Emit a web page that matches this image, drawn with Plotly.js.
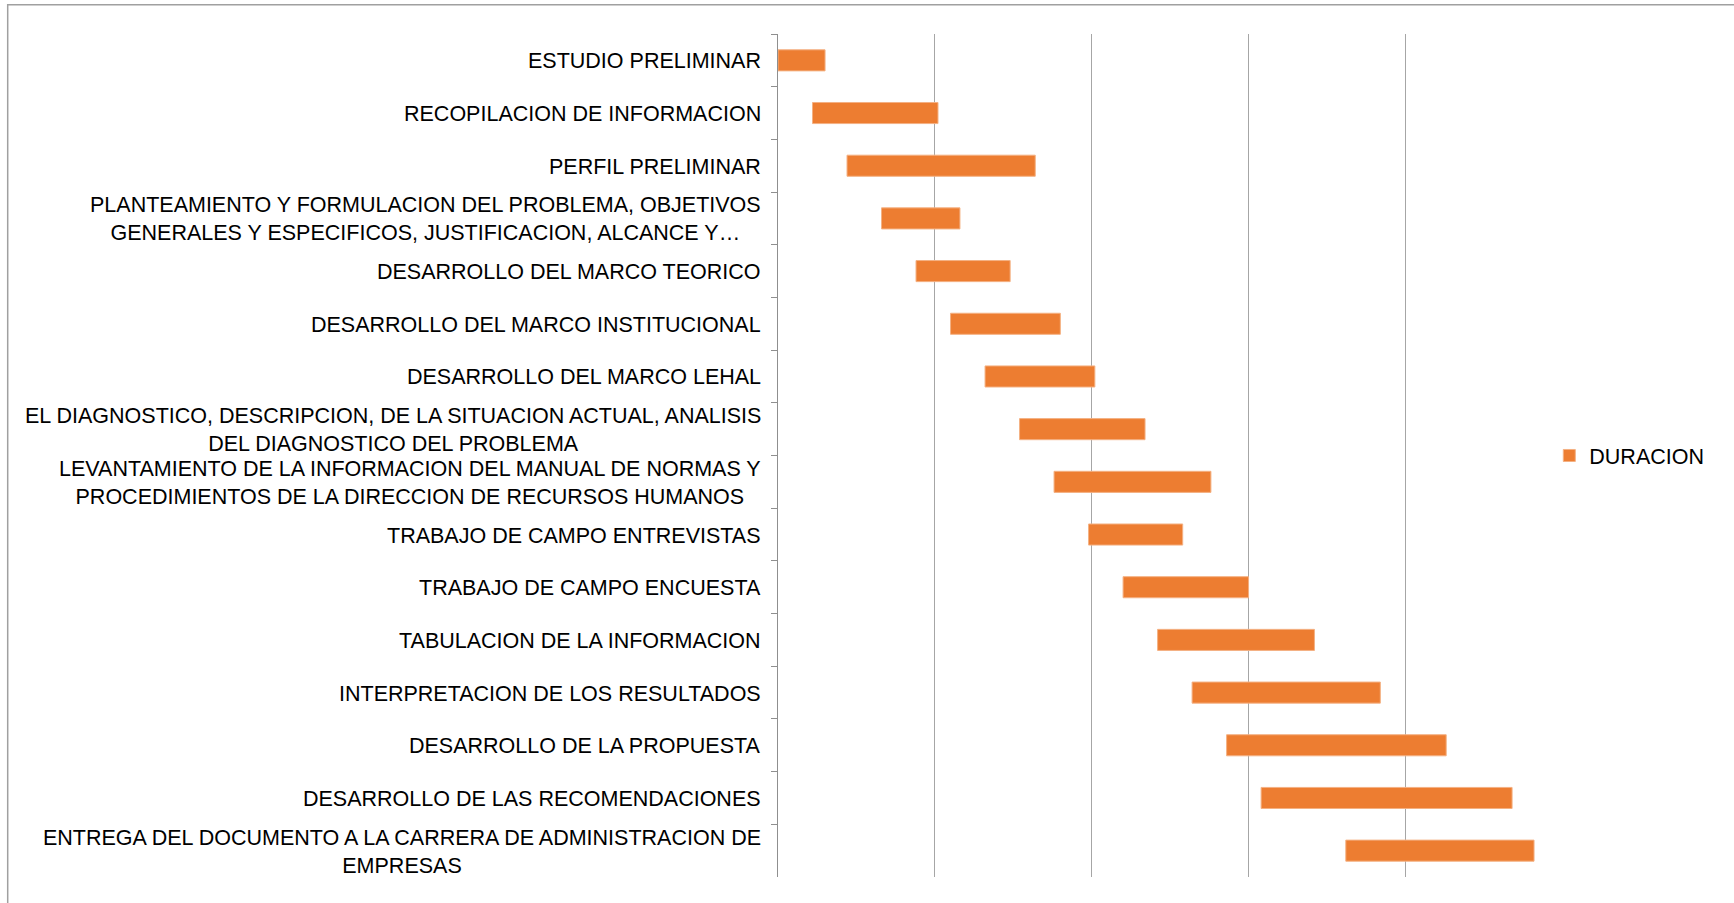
<!DOCTYPE html>
<html>
<head>
<meta charset="utf-8">
<script src="https://cdn.plot.ly/plotly-3.0.1.min.js"></script>
<style>
  html, body { margin: 0; padding: 0; background: #ffffff; }
  #chart { width: 1734px; height: 903px; }
</style>
</head>
<body>
<div id="chart"></div>
<script>
// Activities (wrapped labels use <br>)
const categories = [
  "ESTUDIO PRELIMINAR",
  "RECOPILACION DE INFORMACION",
  "PERFIL PRELIMINAR",
  "PLANTEAMIENTO Y FORMULACION DEL PROBLEMA, OBJETIVOS<br>GENERALES Y ESPECIFICOS, JUSTIFICACION, ALCANCE Y…",
  "DESARROLLO DEL MARCO TEORICO",
  "DESARROLLO DEL MARCO INSTITUCIONAL",
  "DESARROLLO DEL MARCO LEHAL",
  "EL DIAGNOSTICO, DESCRIPCION, DE LA SITUACION ACTUAL, ANALISIS<br>DEL DIAGNOSTICO DEL PROBLEMA",
  "LEVANTAMIENTO DE LA INFORMACION DEL MANUAL DE NORMAS Y<br>PROCEDIMIENTOS DE LA DIRECCION DE RECURSOS HUMANOS",
  "TRABAJO DE CAMPO ENTREVISTAS",
  "TRABAJO DE CAMPO ENCUESTA",
  "TABULACION DE LA INFORMACION",
  "INTERPRETACION DE LOS RESULTADOS",
  "DESARROLLO DE LA PROPUESTA",
  "DESARROLLO DE LAS RECOMENDACIONES",
  "ENTREGA DEL DOCUMENTO A LA CARRERA DE ADMINISTRACION DE<br>EMPRESAS"
];

// Start offsets (days) and durations (days)
const inicio   = [0, 11, 22, 33, 44, 55, 66, 77, 88, 99, 110, 121, 132, 143, 154, 181];
const duracion = [15, 40, 60, 25, 30, 35, 35, 40, 50, 30, 40, 50, 60, 70, 80, 60];

const seriesName = "DURACION";

const L = 778, R = 178.3, T = 34.3, B = 25.7;
const W = 1734, H = 903;
const plotW = W - L - R, plotH = H - T - B;
const FONT = "Liberation Sans, Arial, sans-serif";

const trace = {
  type: "bar",
  orientation: "h",
  name: seriesName,
  y: categories,
  x: duracion,
  base: inicio,
  marker: { color: "#ED7D31", line: { color: "#F4B183", width: 1 } },
  hoverinfo: "skip",
  showlegend: true
};

const annotations = categories.map(c => ({
  xref: "paper", yref: "y",
  x: 0, y: c,
  xanchor: "right", yanchor: "middle",
  xshift: -15, yshift: -1,
  align: "center",
  showarrow: false,
  text: c,
  font: { family: FONT, size: 21.5, color: "#000000" }
}));

const borderX = (8 - L) / plotW;
const borderY = (H - B - 5) / plotH;

const layout = {
  width: W, height: H,
  margin: { l: L, r: R, t: T, b: B, pad: 0 },
  paper_bgcolor: "#ffffff",
  plot_bgcolor: "#ffffff",
  bargap: 0.6,
  showlegend: true,
  legend: {
    x: (1549 - L) / plotW, xanchor: "left",
    y: 0.5, yanchor: "middle",
    font: { family: FONT, size: 21.5, color: "#000000" },
    bgcolor: "rgba(0,0,0,0)",
    itemwidth: 30
  },
  xaxis: {
    range: [0, 248],
    tick0: 0, dtick: 50,
    showgrid: true, gridcolor: "#a6a6a6", gridwidth: 1,
    zeroline: false, showline: false,
    showticklabels: false, ticks: "",
    fixedrange: true
  },
  yaxis: {
    type: "category",
    range: [15.5, -0.5],
    showgrid: false, zeroline: false,
    showline: true, linecolor: "#8f8f8f", linewidth: 1,
    ticks: "outside", tickson: "boundaries", ticklen: 6, tickwidth: 1, tickcolor: "#8f8f8f",
    showticklabels: false,
    fixedrange: true
  },
  annotations: annotations,
  shapes: [{
    type: "rect", xref: "paper", yref: "paper",
    x0: borderX, x1: 3, y0: -3, y1: borderY,
    line: { color: "#a0a0a0", width: 1.5 },
    fillcolor: "rgba(0,0,0,0)",
    layer: "below"
  }]
};

Plotly.newPlot("chart", [trace], layout, { displayModeBar: false, staticPlot: true });
</script>
</body>
</html>
